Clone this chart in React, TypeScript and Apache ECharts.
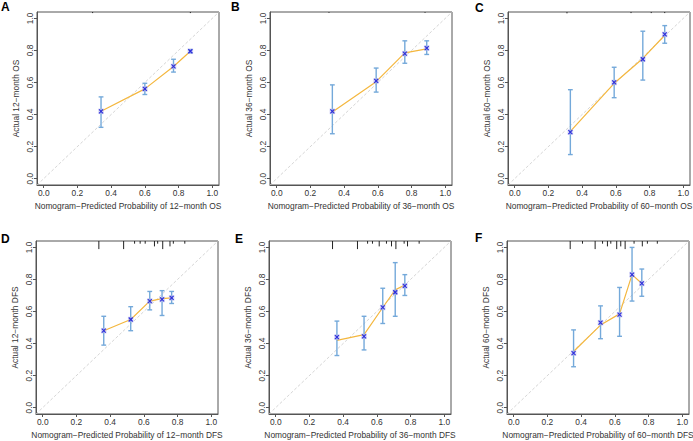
import React, { useEffect, useRef } from "react";
import * as echarts from "echarts";

const TICKS = [0, 0.2, 0.4, 0.6, 0.8, 1.0];
const PANEL_LABELS = ["A", "B", "C", "D", "E", "F"];
const X_TITLES = [
  "Nomogram\u2212Predicted Probability of 12\u2212month OS",
  "Nomogram\u2212Predicted Probability of 36\u2212month OS",
  "Nomogram\u2212Predicted Probability of 60\u2212month OS",
  "Nomogram\u2212Predicted Probability of 12\u2212month DFS",
  "Nomogram\u2212Predicted Probability of 36\u2212month DFS",
  "Nomogram\u2212Predicted Probability of 60\u2212month DFS",
];
const Y_TITLES = [
  "Actual 12\u2212month OS",
  "Actual 36\u2212month OS",
  "Actual 60\u2212month OS",
  "Actual 12\u2212month DFS",
  "Actual 36\u2212month DFS",
  "Actual 60\u2212month DFS",
];

// Panel A: 12-month OS
const A_PRED = [0.34, 0.6, 0.77, 0.87];
const A_OBS = [0.42, 0.56, 0.7, 0.795];
const A_LO = [0.32, 0.525, 0.665, 0.785];
const A_HI = [0.51, 0.595, 0.745, 0.805];
const A_LINE = [0.42, 0.56, 0.7, 0.795];
const A_RUG_X = [0.29, 0.87];
const A_RUG_N = [0.4, 0.4];

// Panel B: 36-month OS
const B_PRED = [0.33, 0.59, 0.76, 0.89];
const B_OBS = [0.42, 0.61, 0.78, 0.815];
const B_LO = [0.28, 0.54, 0.72, 0.775];
const B_HI = [0.585, 0.69, 0.86, 0.86];
const B_LINE = [0.415, 0.605, 0.785, 0.81];
const B_RUG_X = [0.31, 0.88];
const B_RUG_N = [0.3, 0.3];

// Panel C: 60-month OS
const C_PRED = [0.33, 0.59, 0.76, 0.89];
const C_OBS = [0.29, 0.6, 0.745, 0.9];
const C_LO = [0.15, 0.505, 0.615, 0.845];
const C_HI = [0.555, 0.695, 0.92, 0.955];
const C_LINE = [0.295, 0.595, 0.75, 0.895];
const C_RUG_X = [0.31, 0.69, 0.81, 0.89];
const C_RUG_N = [0.5, 0.4, 0.4, 0.4];

// Panel D: 12-month DFS
const D_PRED = [0.362, 0.522, 0.635, 0.708, 0.765];
const D_OBS = [0.48, 0.55, 0.665, 0.675, 0.685];
const D_LO = [0.39, 0.48, 0.61, 0.575, 0.65];
const D_HI = [0.57, 0.63, 0.725, 0.73, 0.725];
const D_LINE = [0.48, 0.55, 0.665, 0.68, 0.685];
const D_RUG_X = [0.333, 0.48, 0.545, 0.578, 0.608, 0.663, 0.682, 0.712, 0.755, 0.775, 0.843];
const D_RUG_N = [3, 3, 1, 1, 1, 2, 1, 3, 2, 1, 1];

// Panel E: 36-month DFS
const E_PRED = [0.363, 0.524, 0.635, 0.709, 0.766];
const E_OBS = [0.44, 0.445, 0.625, 0.72, 0.76];
const E_LO = [0.325, 0.36, 0.525, 0.57, 0.7];
const E_HI = [0.54, 0.57, 0.745, 0.905, 0.83];
const E_LINE = [0.42, 0.455, 0.625, 0.735, 0.765];
const E_RUG_X = [0.337, 0.485, 0.545, 0.574, 0.614, 0.657, 0.687, 0.713, 0.762, 0.782, 0.851];
const E_RUG_N = [3, 3, 1, 1, 2, 1, 2, 3, 1, 2, 1];

// Panel F: 60-month DFS
const F_PRED = [0.355, 0.515, 0.628, 0.702, 0.76];
const F_OBS = [0.34, 0.53, 0.58, 0.83, 0.775];
const F_LO = [0.255, 0.43, 0.445, 0.665, 0.695];
const F_HI = [0.485, 0.635, 0.75, 1.0, 0.865];
const F_LINE = [0.35, 0.515, 0.585, 0.83, 0.775];
const F_RUG_X = [0.335, 0.408, 0.483, 0.527, 0.556, 0.576, 0.611, 0.635, 0.661, 0.714, 0.763, 0.793, 0.852];
const F_RUG_N = [3, 1, 3, 1, 2, 1, 3, 2, 3, 1, 2, 1, 1];

const PANELS = [
  { pred: A_PRED, obs: A_OBS, lo: A_LO, hi: A_HI, line: A_LINE, rugX: A_RUG_X, rugN: A_RUG_N },
  { pred: B_PRED, obs: B_OBS, lo: B_LO, hi: B_HI, line: B_LINE, rugX: B_RUG_X, rugN: B_RUG_N },
  { pred: C_PRED, obs: C_OBS, lo: C_LO, hi: C_HI, line: C_LINE, rugX: C_RUG_X, rugN: C_RUG_N },
  { pred: D_PRED, obs: D_OBS, lo: D_LO, hi: D_HI, line: D_LINE, rugX: D_RUG_X, rugN: D_RUG_N },
  { pred: E_PRED, obs: E_OBS, lo: E_LO, hi: E_HI, line: E_LINE, rugX: E_RUG_X, rugN: E_RUG_N },
  { pred: F_PRED, obs: F_OBS, lo: F_LO, hi: F_HI, line: F_LINE, rugX: F_RUG_X, rugN: F_RUG_N },
];

// layout (pixels)
const GRID_POS = [
  { left: 37, top: 12 },
  { left: 270, top: 12 },
  { left: 508, top: 12 },
  { left: 36, top: 241 },
  { left: 269, top: 241 },
  { left: 507, top: 241 },
];
const LABEL_POS = [
  { x: 1, y: 1 },
  { x: 231, y: 1 },
  { x: 475, y: 2 },
  { x: 1, y: 233 },
  { x: 235, y: 233 },
  { x: 475, y: 232 },
];
const GW = 182;
const GH = 173;
const AX_MIN = -0.04;
const AX_MAX = 1.04;
const FONT = "'Liberation Sans', Arial, Helvetica, sans-serif";

function errRender(params: any, api: any) {
  const x = api.value(0);
  const y = api.value(1);
  const lo = api.value(2);
  const hi = api.value(3);
  const p = api.coord([x, y]);
  const a = api.coord([x, lo]);
  const b = api.coord([x, hi]);
  const c = 2.4;
  const m = 2.0;
  const barStyle = { stroke: "#74a9da", lineWidth: 1.4 };
  const xStyle = { stroke: "#2c2cdc", lineWidth: 1.1 };
  return {
    type: "group",
    children: [
      { type: "line", shape: { x1: a[0], y1: a[1], x2: b[0], y2: b[1] }, style: barStyle },
      { type: "line", shape: { x1: a[0] - c, y1: a[1], x2: a[0] + c, y2: a[1] }, style: barStyle },
      { type: "line", shape: { x1: b[0] - c, y1: b[1], x2: b[0] + c, y2: b[1] }, style: barStyle },
      { type: "rect", shape: { x: p[0] - 2.8, y: p[1] - 2.8, width: 5.6, height: 5.6 }, style: { fill: "rgba(180,180,235,0.5)" } },
      { type: "line", shape: { x1: p[0] - m, y1: p[1] - m, x2: p[0] + m, y2: p[1] + m }, style: xStyle },
      { type: "line", shape: { x1: p[0] - m, y1: p[1] + m, x2: p[0] + m, y2: p[1] - m }, style: xStyle },
    ],
  };
}

function rugRender(params: any, api: any) {
  const x = api.value(0);
  const n = api.value(1);
  const top = api.coord([x, AX_MAX]);
  return {
    type: "line",
    shape: { x1: top[0], y1: top[1], x2: top[0], y2: top[1] + n * 2.7 },
    style: { stroke: "#222", lineWidth: 1 },
  };
}

export default function App() {
  const ref = useRef<HTMLDivElement>(null);
  useEffect(() => {
    document.body.style.margin = "0";
    if (!ref.current) return;
    const chart = echarts.init(ref.current, null, { renderer: "svg" });
    const grid = GRID_POS.map((g) => ({
      left: g.left,
      top: g.top,
      width: GW,
      height: GH,
      show: true,
      borderColor: "#555",
      borderWidth: 1,
      backgroundColor: "transparent",
      outerBoundsMode: "none",
    }));
    const axisCommon = (i: number) => ({
      type: "value",
      gridIndex: i,
      min: AX_MIN,
      max: AX_MAX,
      axisLine: { show: true, onZero: false, lineStyle: { color: "#555", width: 1 } },
      axisTick: { show: true, customValues: TICKS, length: 3, lineStyle: { color: "#555" } },
      splitLine: { show: false },
      nameLocation: "middle",
      nameGap: 17,
      nameTextStyle: { fontSize: 8.4, color: "#333", fontFamily: FONT },
    });
    const xAxis = PANELS.map((_, i) => ({
      ...axisCommon(i),
      name: X_TITLES[i],
      axisLabel: {
        customValues: TICKS,
        formatter: (v: number) => v.toFixed(1),
        fontSize: 8.4,
        color: "#333",
        margin: 4,
        fontFamily: FONT,
      },
    }));
    const yAxis = PANELS.map((_, i) => ({
      ...axisCommon(i),
      name: Y_TITLES[i],
      axisLabel: {
        customValues: TICKS,
        formatter: (v: number) => v.toFixed(1),
        fontSize: 8.4,
        color: "#333",
        margin: 3,
        rotate: 90,
        fontFamily: FONT,
      },
    }));
    const series: any[] = [];
    PANELS.forEach((p, i) => {
      series.push({
        type: "line",
        xAxisIndex: i,
        yAxisIndex: i,
        data: [
          [AX_MIN, AX_MIN],
          [AX_MAX, AX_MAX],
        ],
        showSymbol: false,
        silent: true,
        lineStyle: { color: "#cacaca", width: 0.8, type: [3, 2] },
        z: 1,
      });
      series.push({
        type: "line",
        xAxisIndex: i,
        yAxisIndex: i,
        data: p.pred.map((x, j) => [x, p.line[j]]),
        showSymbol: false,
        silent: true,
        lineStyle: { color: "#f4b73e", width: 1.2 },
        z: 2,
      });
      series.push({
        type: "custom",
        xAxisIndex: i,
        yAxisIndex: i,
        data: p.pred.map((x, j) => [x, p.obs[j], p.lo[j], p.hi[j]]),
        renderItem: errRender,
        encode: { x: 0, y: 1 },
        silent: true,
        z: 3,
      });
      series.push({
        type: "custom",
        xAxisIndex: i,
        yAxisIndex: i,
        data: p.rugX.map((x, j) => [x, p.rugN[j]]),
        renderItem: rugRender,
        encode: { x: 0, y: 1 },
        silent: true,
        clip: false,
        z: 3,
      });
    });
    const graphic = PANEL_LABELS.map((t, i) => ({
      type: "text",
      left: LABEL_POS[i].x,
      top: LABEL_POS[i].y,
      style: { text: t, fontSize: 12, fontWeight: "bold", fontFamily: FONT, fill: "#000" },
    }));
    chart.setOption({
      animation: false,
      backgroundColor: "#fff",
      grid,
      xAxis,
      yAxis,
      series,
      graphic,
    } as any);
    return () => chart.dispose();
  }, []);
  return <div ref={ref} style={{ width: 693, height: 441 }} />;
}
